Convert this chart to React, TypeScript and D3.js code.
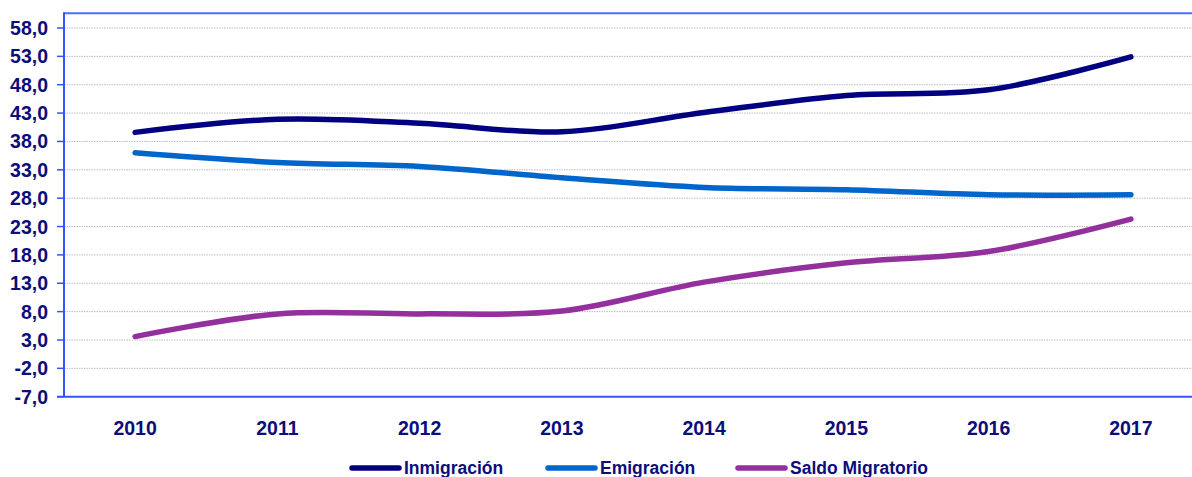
import React from "react";
import * as d3 from "d3";

const years = ["2010", "2011", "2012", "2013", "2014", "2015", "2016", "2017"];
const inmigracion = [39.6, 41.9, 41.2, 39.7, 43.1, 46.1, 47.1, 52.9];
const emigracion = [36.0, 34.3, 33.6, 31.6, 29.9, 29.5, 28.6, 28.6];
const saldo = [3.6, 7.6, 7.6, 8.1, 13.2, 16.6, 18.6, 24.3];
const yTicks = [58, 53, 48, 43, 38, 33, 28, 23, 18, 13, 8, 3, -2, -7];

const seriesNames = ["Inmigración", "Emigración", "Saldo Migratorio"];
const seriesColors = ["#000080", "#0066CC", "#93309D"];

const W = 1192;
const H = 477;
const left = 64;
const top = 13.3;
const bottom = 396.7;
const plotRight = 1202;

export default function App() {
  const y = d3.scaleLinear().domain([-7, 58]).range([bottom, 28]);
  const x = d3.scaleBand().domain(years).range([left, plotRight]).padding(0);
  const cx = (d: string) => (x(d) as number) + x.bandwidth() / 2;
  const line = d3
    .line<number>()
    .x((_, i) => cx(years[i]))
    .y((v) => y(v))
    .curve(d3.curveCardinal.tension(0));
  const data = [inmigracion, emigracion, saldo];
  const textColor = "#0C0C7A";
  const font = "'Liberation Sans', Arial, sans-serif";
  const legendX = [352, 548, 738];
  const legendY = 468;

  return (
    <svg
      width={W}
      height={H}
      style={{ position: "absolute", left: 0, top: 0, background: "#fff" }}
      fontFamily={font}
    >
      {/* gridlines */}
      {yTicks.slice(0, -1).map((t) => (
        <line
          key={t}
          x1={left}
          x2={W}
          y1={y(t)}
          y2={y(t)}
          stroke="#BDBDBD"
          strokeWidth={1}
          strokeDasharray="1.5,1"
        />
      ))}
      {/* top border */}
      <line x1={left} x2={W} y1={top} y2={top} stroke="#4F6BFF" strokeWidth={2} />
      {/* axes */}
      <line x1={left} x2={left} y1={top - 1} y2={bottom} stroke="#3355FF" strokeWidth={2} />
      <line x1={left - 7} x2={W} y1={bottom} y2={bottom} stroke="#3355FF" strokeWidth={2} />
      {yTicks.map((t) => (
        <g key={t}>
          <line x1={left - 7} x2={left} y1={y(t)} y2={y(t)} stroke="#3355FF" strokeWidth={1.5} />
          <text
            x={48}
            y={y(t)}
            textAnchor="end"
            dominantBaseline="central"
            fontSize={19.5}
            fontWeight="bold"
            fill={textColor}
          >
            {d3.format(".1f")(t).replace(".", ",").replace("−", "-")}
          </text>
        </g>
      ))}
      {years.map((yr) => (
        <text
          key={yr}
          x={cx(yr)}
          y={428}
          textAnchor="middle"
          dominantBaseline="central"
          fontSize={19.5}
          fontWeight="bold"
          fill={textColor}
        >
          {yr}
        </text>
      ))}
      {/* series */}
      {data.map((s, i) => (
        <path
          key={i}
          d={line(s) as string}
          fill="none"
          stroke={seriesColors[i]}
          strokeWidth={5.5}
          strokeLinecap="round"
          strokeLinejoin="round"
        />
      ))}
      {/* legend */}
      {seriesNames.map((n, i) => (
        <g key={n}>
          <line
            x1={legendX[i]}
            x2={legendX[i] + 47}
            y1={legendY}
            y2={legendY}
            stroke={seriesColors[i]}
            strokeWidth={5.5}
            strokeLinecap="round"
          />
          <text
            x={legendX[i] + 52}
            y={legendY}
            dominantBaseline="central"
            fontSize={17.5}
            fontWeight="bold"
            fill={textColor}
          >
            {n}
          </text>
        </g>
      ))}
    </svg>
  );
}
